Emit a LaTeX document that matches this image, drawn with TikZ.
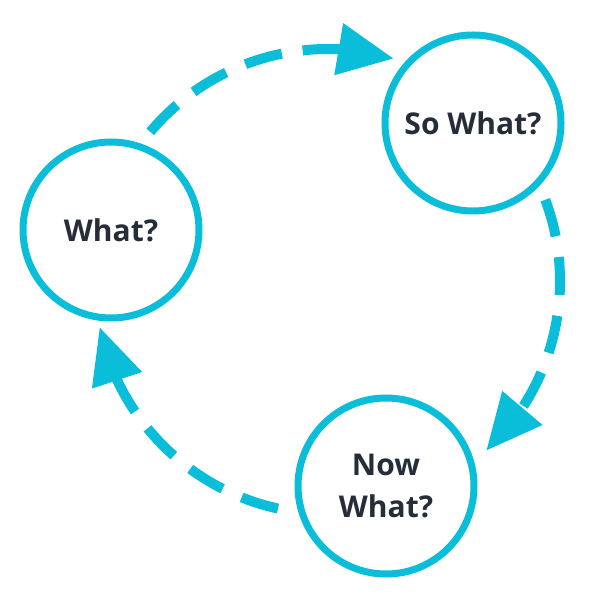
\documentclass[tikz,border=0pt]{standalone}
\usepackage{fontspec}
\setmainfont{Open Sans}
\usetikzlibrary{arrows.meta,bending}
\definecolor{cyanline}{RGB}{10,189,217}
\definecolor{darktext}{RGB}{37,46,56}
\begin{document}
\begin{tikzpicture}[x=1pt,y=1pt,
  stage/.style={circle, draw=cyanline, line width=7pt, minimum size=176pt, inner sep=0pt,
    text=darktext, align=center, font=\fontsize{30}{42}\selectfont\bfseries},
  flow/.style={draw=cyanline, line width=10pt, dash pattern=on 38pt off 21pt,
    -{Triangle[length=56pt,width=50pt]}}]
\useasboundingbox (0,0) rectangle (600,600);
\node[stage] (what) at (111,370) {What?};
\node[stage] (sowhat) at (473,477) {So What?};
\node[stage] (nowwhat) at (386,114) {Now\\What?};
\coordinate (O) at (328,319);
\coordinate (s1) at ([shift={(140:232)}]O);
\coordinate (s2) at ([shift={(20.5:232)}]O);
\coordinate (s3) at ([shift={(-102.4:233)}]O);
\draw[flow] (s1) arc[start angle=140, end angle=73.5, radius=232];
\draw[flow] (s2) arc[start angle=20.5, end angle=-47, radius=232];
\draw[flow] (s3) arc[start angle=-102.4, end angle=-168.6, radius=233];
\end{tikzpicture}
\end{document}
